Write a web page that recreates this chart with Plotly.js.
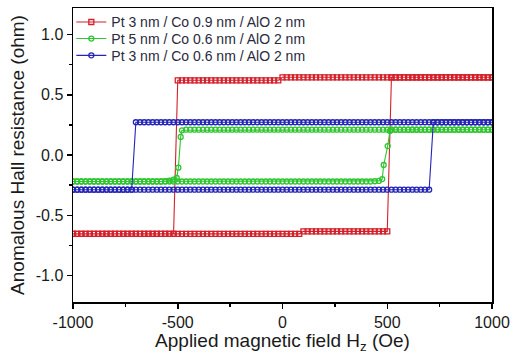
<!DOCTYPE html>
<html>
<head>
<meta charset="utf-8">
<script src="https://cdn.plot.ly/plotly-3.0.1.min.js"></script>
<style>html,body{margin:0;padding:0;background:#fff;}#chart{width:513px;height:354px;}</style>
</head>
<body>
<div id="chart"></div>
<script>
// Field sweep from +1000 Oe down to -1000 Oe (Oe)
var H_DOWN = [
  1000,980,960,940,920,900,880,860,840,820,
  800,780,760,740,720,700,680,660,640,620,
  600,580,560,540,520,500,480,460,440,420,
  400,380,360,340,320,300,280,260,240,220,
  200,180,160,140,120,100,80,60,40,20,
  0,-20,-40,-60,-80,-100,-120,-140,-160,-180,
  -200,-220,-240,-260,-280,-300,-320,-340,-360,-380,
  -400,-420,-440,-460,-480,-500,-520,-540,-560,-580,
  -600,-620,-640,-660,-680,-700,-720,-740,-760,-780,
  -800,-820,-840,-860,-880,-900,-920,-940,-960,-980,
  -1000
];
// Field sweep from -1000 Oe up to +1000 Oe (Oe)
var H_UP = [
  -1000,-980,-960,-940,-920,-900,-880,-860,-840,-820,
  -800,-780,-760,-740,-720,-700,-680,-660,-640,-620,
  -600,-580,-560,-540,-520,-500,-480,-460,-440,-420,
  -400,-380,-360,-340,-320,-300,-280,-260,-240,-220,
  -200,-180,-160,-140,-120,-100,-80,-60,-40,-20,
  0,20,40,60,80,100,120,140,160,180,
  200,220,240,260,280,300,320,340,360,380,
  400,420,440,460,480,500,520,540,560,580,
  600,620,640,660,680,700,720,740,760,780,
  800,820,840,860,880,900,920,940,960,980,
  1000
];

// Pt 3 nm / Co 0.9 nm / AlO 2 nm (ohm)
var RED_DOWN = [
  0.645,0.645,0.645,0.645,0.645,0.645,0.645,0.645,0.645,0.645,
  0.645,0.645,0.645,0.645,0.645,0.645,0.645,0.645,0.645,0.645,
  0.645,0.645,0.645,0.645,0.645,0.645,0.645,0.645,0.645,0.645,
  0.645,0.645,0.645,0.645,0.645,0.645,0.645,0.645,0.645,0.645,
  0.645,0.645,0.645,0.645,0.645,0.645,0.645,0.645,0.645,0.645,
  0.645,0.62,0.62,0.62,0.62,0.62,0.62,0.62,0.62,0.62,
  0.62,0.62,0.62,0.62,0.62,0.62,0.62,0.62,0.62,0.62,
  0.62,0.62,0.62,0.62,0.62,0.62,-0.655,-0.655,-0.655,-0.655,
  -0.655,-0.655,-0.655,-0.655,-0.655,-0.655,-0.655,-0.655,-0.655,-0.655,
  -0.655,-0.655,-0.655,-0.655,-0.655,-0.655,-0.655,-0.655,-0.655,-0.655,
  -0.655
];
var RED_UP = [
  -0.655,-0.655,-0.655,-0.655,-0.655,-0.655,-0.655,-0.655,-0.655,-0.655,
  -0.655,-0.655,-0.655,-0.655,-0.655,-0.655,-0.655,-0.655,-0.655,-0.655,
  -0.655,-0.655,-0.655,-0.655,-0.655,-0.655,-0.655,-0.655,-0.655,-0.655,
  -0.655,-0.655,-0.655,-0.655,-0.655,-0.655,-0.655,-0.655,-0.655,-0.655,
  -0.655,-0.655,-0.655,-0.655,-0.655,-0.655,-0.655,-0.655,-0.655,-0.655,
  -0.655,-0.655,-0.655,-0.655,-0.655,-0.634,-0.634,-0.634,-0.634,-0.634,
  -0.634,-0.634,-0.634,-0.634,-0.634,-0.634,-0.634,-0.634,-0.634,-0.634,
  -0.634,-0.634,-0.634,-0.634,-0.634,-0.634,0.645,0.645,0.645,0.645,
  0.645,0.645,0.645,0.645,0.645,0.645,0.645,0.645,0.645,0.645,
  0.645,0.645,0.645,0.645,0.645,0.645,0.645,0.645,0.645,0.645,
  0.645
];

// Pt 5 nm / Co 0.6 nm / AlO 2 nm
var GREEN_H_DOWN = [
  1000,980,960,940,920,900,880,860,840,820,
  800,780,760,740,720,700,680,660,640,620,
  600,580,560,540,520,500,480,460,440,420,
  400,380,360,340,320,300,280,260,240,220,
  200,180,160,140,120,100,80,60,40,20,
  0,-20,-40,-60,-80,-100,-120,-140,-160,-180,
  -200,-220,-240,-260,-280,-300,-320,-340,-360,-380,
  -400,-420,-440,-460,-480,
  -486,-497,-505,-520,-540,
  -560,-580,
  -600,-620,-640,-660,-680,-700,-720,-740,-760,-780,
  -800,-820,-840,-860,-880,-900,-920,-940,-960,-980,
  -1000
];
var GREEN_DOWN = [
  0.21,0.21,0.21,0.21,0.21,0.21,0.21,0.21,0.21,0.21,
  0.21,0.21,0.21,0.21,0.21,0.21,0.21,0.21,0.21,0.21,
  0.21,0.21,0.21,0.21,0.21,0.21,0.21,0.21,0.21,0.21,
  0.21,0.21,0.21,0.21,0.21,0.21,0.21,0.21,0.21,0.21,
  0.21,0.21,0.21,0.21,0.21,0.21,0.21,0.21,0.21,0.21,
  0.21,0.21,0.21,0.21,0.21,0.21,0.21,0.21,0.21,0.21,
  0.21,0.21,0.21,0.21,0.21,0.21,0.21,0.21,0.21,0.21,
  0.21,0.21,0.21,0.21,0.205,
  0.15,-0.105,-0.19,-0.205,-0.212,
  -0.218,-0.22,
  -0.22,-0.22,-0.22,-0.22,-0.22,-0.22,-0.22,-0.22,-0.22,-0.22,
  -0.22,-0.22,-0.22,-0.22,-0.22,-0.22,-0.22,-0.22,-0.22,-0.22,
  -0.22
];
var GREEN_H_UP = [
  -1000,-980,-960,-940,-920,-900,-880,-860,-840,-820,
  -800,-780,-760,-740,-720,-700,-680,-660,-640,-620,
  -600,-580,-560,-540,-520,-500,-480,-460,-440,-420,
  -400,-380,-360,-340,-320,-300,-280,-260,-240,-220,
  -200,-180,-160,-140,-120,-100,-80,-60,-40,-20,
  0,20,40,60,80,100,120,140,160,180,
  200,220,240,260,280,300,320,340,360,380,
  400,420,440,460,
  476,483,502,513,
  520,540,560,580,
  600,620,640,660,680,700,720,740,760,780,
  800,820,840,860,880,900,920,940,960,980,
  1000
];
var GREEN_UP = [
  -0.22,-0.22,-0.22,-0.22,-0.22,-0.22,-0.22,-0.22,-0.22,-0.22,
  -0.22,-0.22,-0.22,-0.22,-0.22,-0.22,-0.22,-0.22,-0.22,-0.22,
  -0.22,-0.22,-0.22,-0.22,-0.22,-0.22,-0.22,-0.22,-0.22,-0.22,
  -0.22,-0.22,-0.22,-0.22,-0.22,-0.22,-0.22,-0.22,-0.22,-0.22,
  -0.22,-0.22,-0.22,-0.22,-0.22,-0.22,-0.22,-0.22,-0.22,-0.22,
  -0.22,-0.22,-0.22,-0.22,-0.22,-0.22,-0.22,-0.22,-0.22,-0.22,
  -0.22,-0.22,-0.22,-0.22,-0.22,-0.22,-0.22,-0.22,-0.22,-0.22,
  -0.22,-0.22,-0.218,-0.215,
  -0.20,-0.083,0.074,0.20,
  0.21,0.21,0.21,0.21,
  0.21,0.21,0.21,0.21,0.21,0.21,0.21,0.21,0.21,0.21,
  0.21,0.21,0.21,0.21,0.21,0.21,0.21,0.21,0.21,0.21,
  0.21
];

// Pt 3 nm / Co 0.6 nm / AlO 2 nm (ohm), on H_DOWN / H_UP
var BLUE_DOWN = [
  0.272,0.272,0.272,0.272,0.272,0.272,0.272,0.272,0.272,0.272,
  0.272,0.272,0.272,0.272,0.272,0.272,0.272,0.272,0.272,0.272,
  0.272,0.272,0.272,0.272,0.272,0.272,0.272,0.272,0.272,0.272,
  0.272,0.272,0.272,0.272,0.272,0.272,0.272,0.272,0.272,0.272,
  0.272,0.272,0.272,0.272,0.272,0.272,0.272,0.272,0.272,0.272,
  0.272,0.272,0.272,0.272,0.272,0.272,0.272,0.272,0.272,0.272,
  0.272,0.272,0.272,0.272,0.272,0.272,0.272,0.272,0.272,0.272,
  0.272,0.272,0.272,0.272,0.272,0.272,0.272,0.272,0.272,0.272,
  0.272,0.272,0.272,0.272,0.272,0.272,-0.288,-0.288,-0.288,-0.288,
  -0.288,-0.288,-0.288,-0.288,-0.288,-0.288,-0.288,-0.288,-0.288,-0.288,
  -0.288
];
var BLUE_UP = [
  -0.288,-0.288,-0.288,-0.288,-0.288,-0.288,-0.288,-0.288,-0.288,-0.288,
  -0.288,-0.288,-0.288,-0.288,-0.288,-0.288,-0.288,-0.288,-0.288,-0.288,
  -0.288,-0.288,-0.288,-0.288,-0.288,-0.288,-0.288,-0.288,-0.288,-0.288,
  -0.288,-0.288,-0.288,-0.288,-0.288,-0.288,-0.288,-0.288,-0.288,-0.288,
  -0.288,-0.288,-0.288,-0.288,-0.288,-0.288,-0.288,-0.288,-0.288,-0.288,
  -0.288,-0.288,-0.288,-0.288,-0.288,-0.288,-0.288,-0.288,-0.288,-0.288,
  -0.288,-0.288,-0.288,-0.288,-0.288,-0.288,-0.288,-0.288,-0.288,-0.288,
  -0.288,-0.288,-0.288,-0.288,-0.288,-0.288,-0.288,-0.288,-0.288,-0.288,
  -0.288,-0.288,-0.288,-0.288,-0.288,-0.288,0.272,0.272,0.272,0.272,
  0.272,0.272,0.272,0.272,0.272,0.272,0.272,0.272,0.272,0.272,
  0.272
];

var SERIES_NAMES = [
  'Pt 3 nm / Co 0.9 nm / AlO 2 nm',
  'Pt 5 nm / Co 0.6 nm / AlO 2 nm',
  'Pt 3 nm / Co 0.6 nm / AlO 2 nm'
];
var X_TICKS = [-1000, -500, 0, 500, 1000];
var X_TICK_LABELS = ['-1000', '-500', '0', '500', '1000'];
var Y_TICKS = [-1.0, -0.5, 0.0, 0.5, 1.0];
var Y_TICK_LABELS = ['-1.0', '-0.5', '0.0', '0.5', '1.0'];

function loop(hd, rd, hu, ru) {
  return {x: hd.concat(hu), y: rd.concat(ru)};
}
var red = loop(H_DOWN, RED_DOWN, H_UP, RED_UP);
var green = loop(GREEN_H_DOWN, GREEN_DOWN, GREEN_H_UP, GREEN_UP);
var blue = loop(H_DOWN, BLUE_DOWN, H_UP, BLUE_UP);

var traces = [
  {x: red.x, y: red.y, name: SERIES_NAMES[0], mode: 'lines+markers', type: 'scatter', legend: 'legend',
   line: {color: '#d4202a', width: 1.1},
   marker: {symbol: 'square-open', size: 5, color: '#d4202a', line: {width: 1.3, color: '#d4202a'}}},
  {x: green.x, y: green.y, name: SERIES_NAMES[1], mode: 'lines+markers', type: 'scatter', legend: 'legend2',
   line: {color: '#2ec62e', width: 1.1},
   marker: {symbol: 'circle-open', size: 5, color: '#2ec62e', line: {width: 1.3, color: '#2ec62e'}}},
  {x: blue.x, y: blue.y, name: SERIES_NAMES[2], mode: 'lines+markers', type: 'scatter', legend: 'legend3',
   line: {color: '#2424b8', width: 1.1},
   marker: {symbol: 'circle-open', size: 5, color: '#2424b8', line: {width: 1.3, color: '#2424b8'}}}
];

var FONT = 'Liberation Sans, Arial, sans-serif';
function legendAt(y) {
  return {x: -0.004, y: y, xanchor: 'left', yanchor: 'top', bgcolor: 'rgba(0,0,0,0)',
          font: {family: FONT, size: 14, color: '#2a2a40'}, itemwidth: 30};
}
var layout = {
  width: 513, height: 354,
  margin: {l: 73, r: 21, t: 7, b: 52, pad: 0},
  paper_bgcolor: '#ffffff', plot_bgcolor: '#ffffff',
  font: {family: FONT, color: '#1a1a1a'},
  showlegend: true,
  legend: legendAt(1.002),
  legend2: legendAt(0.946),
  legend3: legendAt(0.889),
  xaxis: {
    range: [-1000, 1000], tickvals: X_TICKS, ticktext: X_TICK_LABELS,
    ticks: 'outside', ticklen: 5, tickwidth: 1.5, tickcolor: '#000',
    showline: true, linecolor: '#000', linewidth: 1.5, mirror: true,
    showgrid: false, zeroline: false,
    minor: {dtick: 250, tick0: 0, ticks: 'outside', ticklen: 3, tickwidth: 1.5, tickcolor: '#000', showgrid: false},
    tickfont: {family: FONT, size: 16, color: '#1a1a1a'},
    title: {text: 'Applied magnetic field H<sub>z</sub> (Oe)', font: {family: FONT, size: 19, color: '#1a1a1a'}, standoff: 5}
  },
  yaxis: {
    range: [-1.22, 1.22], tickvals: Y_TICKS, ticktext: Y_TICK_LABELS,
    ticks: 'outside', ticklen: 5, tickwidth: 1.5, tickcolor: '#000',
    showline: true, linecolor: '#000', linewidth: 1.5, mirror: true,
    showgrid: false, zeroline: false,
    minor: {dtick: 0.25, tick0: 0, ticks: 'outside', ticklen: 3, tickwidth: 1.5, tickcolor: '#000', showgrid: false},
    tickfont: {family: FONT, size: 16, color: '#1a1a1a'},
    title: {text: 'Anomalous Hall resistance (ohm)', font: {family: FONT, size: 19, color: '#1a1a1a'}, standoff: 6}
  }
};

Plotly.newPlot('chart', traces, layout, {staticPlot: true, displayModeBar: false});
</script>
</body>
</html>
